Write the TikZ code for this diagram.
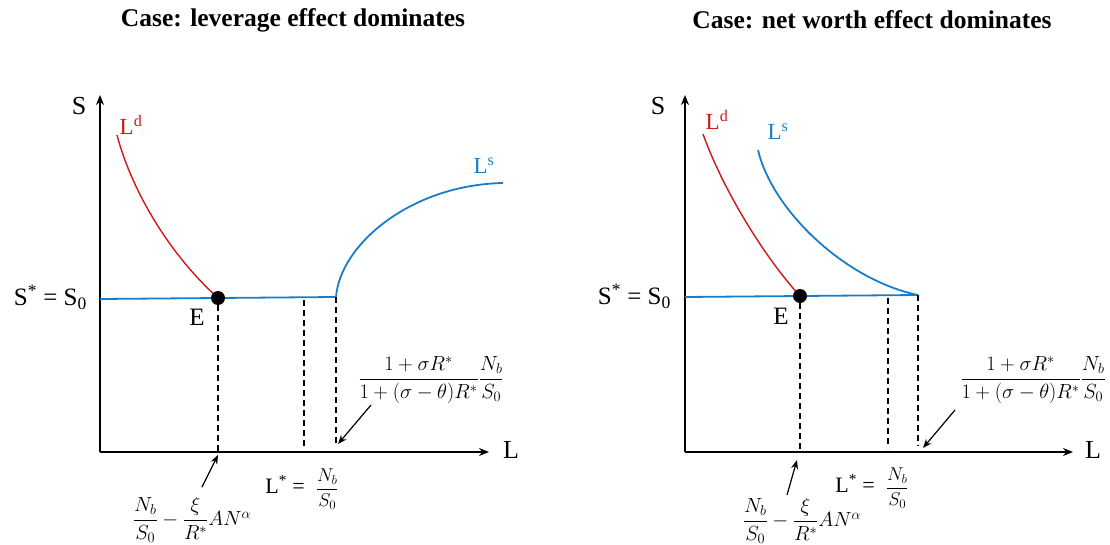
\documentclass[tikz,border=0pt]{standalone}
\usepackage{fix-cm}
\usepackage{amsmath}
\usepackage{fontspec}
\setmainfont{Liberation Serif}
\usetikzlibrary{arrows.meta}
\definecolor{ldred}{RGB}{205,25,25}
\definecolor{lsblue}{RGB}{25,125,205}
\newcommand{\lstarfrac}{{\fontsize{18.5}{22}\selectfont$\dfrac{N_b}{S_0}$}}
\tikzset{
  axisline/.style={line width=1.8pt,-{Stealth[length=10pt,width=8pt]}},
  pointer/.style={line width=1.2pt,-{Stealth[length=9pt,width=7pt]}},
  guide/.style={line width=1.3pt,dash pattern=on 6pt off 4pt},
  demand/.style={ldred,line width=1.4pt},
  supply/.style={lsblue,line width=1.8pt},
  titletext/.style={font=\fontsize{25.5}{30}\selectfont\bfseries,inner sep=0pt},
  axlabel/.style={font=\fontsize{26}{30}\selectfont,inner sep=0pt},
  eqlabel/.style={font=\fontsize{25}{30}\selectfont,inner sep=0pt},
  elabel/.style={font=\fontsize{25}{30}\selectfont,inner sep=0pt},
  curvelabel/.style={font=\fontsize{23}{26}\selectfont,inner sep=0pt},
  mathlabel/.style={font=\fontsize{20.5}{24}\selectfont,inner sep=0pt},
  lstarlabel/.style={font=\fontsize{22}{24}\selectfont,inner sep=0pt},
  dotstyle/.style={circle,fill=black,minimum size=14pt,inner sep=0pt}
}
\begin{document}
\begin{tikzpicture}[x=1pt,y=-1pt]
\useasboundingbox (0,0) rectangle (1110,545);

% ================= LEFT PANEL =================
\node[titletext] (t1) at (293,20) {Case: leverage effect dominates};
\coordinate (O1) at (100,452);
\coordinate (Ytop1) at (100,95);
\coordinate (Xend1) at (489,452);
\draw[axisline] (O1) -- (Ytop1);
\draw[axisline] (O1) -- (Xend1);
\node[axlabel] (S1) at (79,106) {S};
\node[axlabel] (L1) at (511,450) {L};
\node[eqlabel,anchor=east] (Seq1) at (87,297) {S\textsuperscript{*} = S\textsubscript{0}};

\coordinate (H1a) at (100,299);
\coordinate (K1) at (336,297);
\draw[supply] (H1a) -- (K1);
\coordinate (Ls1end) at (503,183);
\draw[supply] (K1) .. controls (340,245) and (410,185) .. (Ls1end);
\coordinate (Ld1start) at (117,135);
\coordinate (E1c) at (218,298);
\draw[demand] (Ld1start) .. controls (130,185) and (165,250) .. (E1c);
\node[dotstyle] (E1) at (E1c) {};
\node[elabel] (E1lab) at (197,317) {E};
\node[curvelabel,text=ldred] (Ld1) at (131,125) {L\textsuperscript{d}};
\node[curvelabel,text=lsblue] (Ls1) at (484,166) {L\textsuperscript{s}};

\coordinate (d1a) at (218,452);
\coordinate (d2t) at (304,300);
\coordinate (d2b) at (304,448);
\coordinate (d3b) at (336,446);
\draw[guide] (E1.south) -- (d1a);
\draw[guide] (d2t) -- (d2b);
\draw[guide] (K1) -- (d3b);

\node[mathlabel] (low1) at (192,520) {$\dfrac{N_b}{S_0}-\dfrac{\xi}{R^*}AN^{\alpha}$};
\node[lstarlabel] (Lstar1) at (302,489) {L\textsuperscript{*} = \ \lstarfrac};
\node[mathlabel] (up1) at (431,380) {$\dfrac{1+\sigma R^*}{1+(\sigma-\theta)R^*}\dfrac{N_b}{S_0}$};
\coordinate (a1s) at (202,487);
\coordinate (a1e) at (218,455);
\coordinate (a2s) at (371,405);
\coordinate (a2e) at (338,444);
\draw[pointer] (a1s) -- (a1e);
\draw[pointer] (a2s) -- (a2e);

% ================= RIGHT PANEL =================
\node[titletext] (t2) at (872,20) {Case: net worth effect dominates};
\coordinate (O2) at (685,452);
\coordinate (Ytop2) at (685,95);
\coordinate (Xend2) at (1073,452);
\draw[axisline] (O2) -- (Ytop2);
\draw[axisline] (O2) -- (Xend2);
\node[axlabel] (S2) at (658,106) {S};
\node[axlabel] (L2) at (1093,450) {L};
\node[eqlabel,anchor=east] (Seq2) at (671,296) {S\textsuperscript{*} = S\textsubscript{0}};

\coordinate (H2a) at (685,297);
\coordinate (K2) at (918,295);
\draw[supply] (H2a) -- (K2);
\coordinate (Ls2start) at (758,150);
\draw[supply] (Ls2start) .. controls (772,210) and (845,280) .. (K2);
\coordinate (Ld2start) at (703,134);
\coordinate (E2c) at (800,296);
\draw[demand] (Ld2start) .. controls (723,190) and (765,258) .. (E2c);
\node[dotstyle] (E2) at (E2c) {};
\node[elabel] (E2lab) at (781,316) {E};
\node[curvelabel,text=ldred] (Ld2) at (717,120) {L\textsuperscript{d}};
\node[curvelabel,text=lsblue] (Ls2) at (778,132) {L\textsuperscript{s}};

\coordinate (e1a) at (800,452);
\coordinate (e2t) at (888,298);
\coordinate (e2b) at (888,448);
\coordinate (e3b) at (918,446);
\draw[guide] (E2.south) -- (e1a);
\draw[guide] (e2t) -- (e2b);
\draw[guide] (K2) -- (e3b);

\node[mathlabel] (low2) at (802,521) {$\dfrac{N_b}{S_0}-\dfrac{\xi}{R^*}AN^{\alpha}$};
\node[lstarlabel] (Lstar2) at (872,488) {L\textsuperscript{*} = \ \lstarfrac};
\node[mathlabel] (up2) at (1033,380) {$\dfrac{1+\sigma R^*}{1+(\sigma-\theta)R^*}\dfrac{N_b}{S_0}$};
\coordinate (b1s) at (787,495);
\coordinate (b1e) at (797,460);
\coordinate (b2s) at (955,410);
\coordinate (b2e) at (923,448);
\draw[pointer] (b1s) -- (b1e);
\draw[pointer] (b2s) -- (b2e);
\end{tikzpicture}
\end{document}
